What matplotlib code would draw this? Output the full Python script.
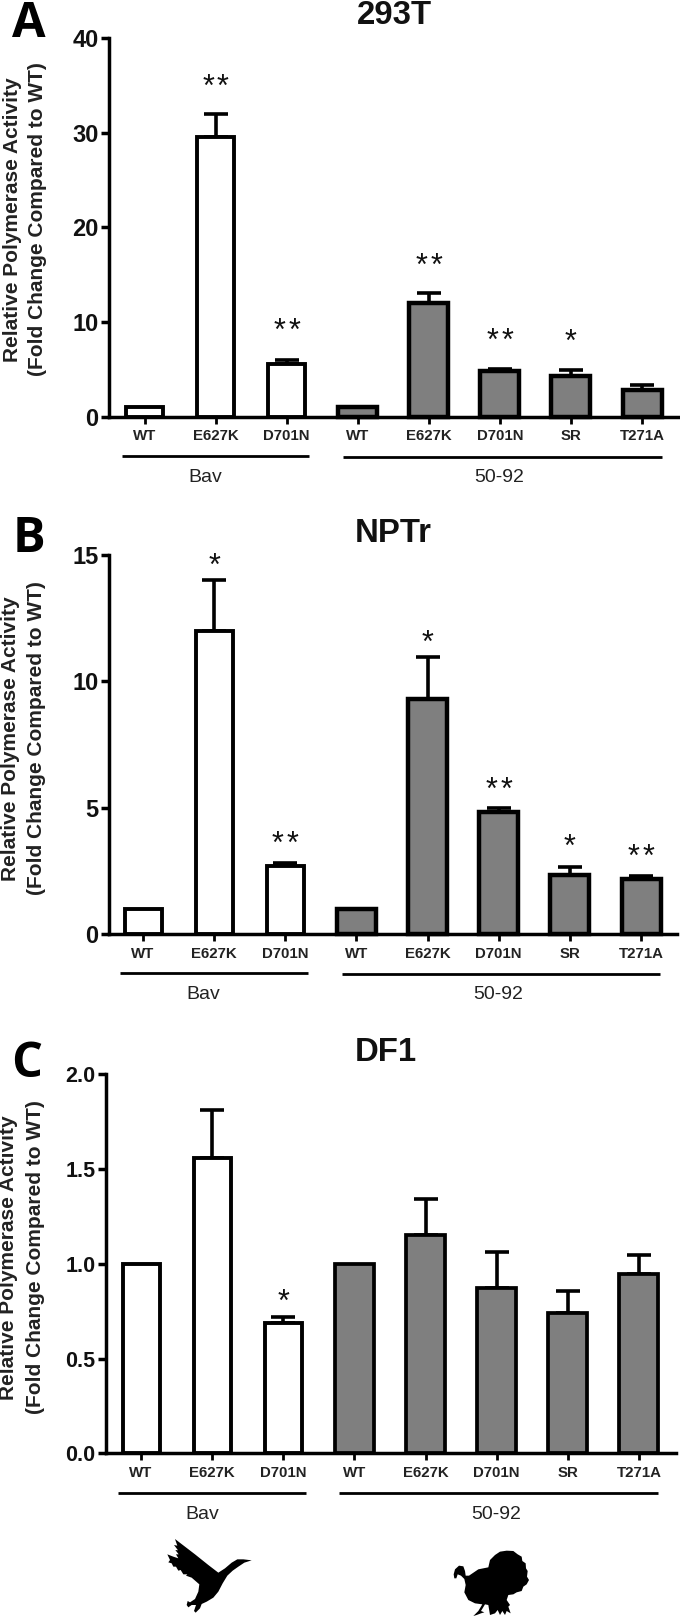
import matplotlib
matplotlib.use("Agg")
import matplotlib.pyplot as plt
from matplotlib.patches import Polygon

plt.rcParams['font.family'] = ['Liberation Sans', 'DejaVu Sans']

# Datos
categorias = ["WT", "E627K", "D701N", "WT", "E627K", "D701N", "SR", "T271A"]

medias_293t = [1.0, 29.5, 5.6, 1.0, 12.0, 4.8, 4.25, 2.85]
error_293t = [0, 2.5, 0.4, 0, 1.0, 0.25, 0.65, 0.5]
estrellas_293t = [0, 2, 2, 0, 2, 2, 1, 0]
altura_estrellas_293t = [0, 35.7, 9.9, 0, 16.75, 8.9, 8.8, 0]

medias_nptr = [1.0, 12.0, 2.7, 1.0, 9.3, 4.84, 2.33, 2.18]
error_nptr = [0, 2.0, 0.1, 0, 1.65, 0.13, 0.33, 0.12]
estrellas_nptr = [0, 1, 2, 0, 1, 2, 1, 2]
altura_estrellas_nptr = [0, 14.9, 3.88, 0, 11.87, 6.05, 3.76, 3.4]

medias_df1 = [1.0, 1.557, 0.686, 1.0, 1.152, 0.87, 0.739, 0.946]
error_df1 = [0, 0.255, 0.032, 0, 0.19, 0.19, 0.119, 0.10]
estrellas_df1 = [0, 0, 1, 0, 0, 0, 0, 0]
altura_estrellas_df1 = [0, 0, 0.845, 0, 0, 0, 0, 0]

ticks_293t = [0, 10, 20, 30, 40]
ticks_nptr = [0, 5, 10, 15]
ticks_df1 = [0.0, 0.5, 1.0, 1.5, 2.0]

W, H = 680, 1618
GRIS = '#7f7f7f'

fig = plt.figure(figsize=(W/100, H/100), dpi=100, facecolor='white')

# Capa en pixeles para textos sueltos, lineas de grupo y siluetas
capa = fig.add_axes([0, 0, 1, 1])
capa.set_xlim(0, W)
capa.set_ylim(H, 0)
capa.axis('off')


def panel(medias, errores, estrellas, alturas, ticks, etiquetas_y, eje_x, x0, x7, der, y_top, y_cero, lw_gris, fs_y):
    ax = fig.add_axes([eje_x/W, 1 - y_cero/H, (der - eje_x)/W, (y_cero - y_top)/H])
    ax.patch.set_alpha(0)
    paso = (x7 - x0)/7
    ax.set_xlim((eje_x - x0)/paso, (der - x0)/paso)
    ax.set_ylim(ticks[0], ticks[-1])
    pos = list(range(8))
    ancho = 37/paso

    ax.bar(pos[:3], medias[:3], ancho, color='white', edgecolor='black', linewidth=2.8, clip_on=False, zorder=3)
    ax.bar(pos[3:], medias[3:], ancho + 2/paso, color=GRIS, edgecolor='black', linewidth=lw_gris, clip_on=False, zorder=3)

    for i in pos:
        if errores[i] > 0:
            ax.errorbar(i, medias[i], yerr=[[0], [errores[i]]], color='black', elinewidth=2.6,
                        capsize=8.3, capthick=2.6, zorder=2)
        # cada estrella va por separado para respetar la separacion del original
        if estrellas[i] == 1:
            desplazamientos = [0]
        elif estrellas[i] == 2:
            desplazamientos = [-5.3, 5.3]
        else:
            desplazamientos = []
        for d in desplazamientos:
            ax.annotate("*", (i, alturas[i]), xytext=(d, -12.5), textcoords='offset points',
                        ha='center', va='baseline', fontsize=22, color='#111111')

    for lado in ['top', 'right']:
        ax.spines[lado].set_visible(False)
    ax.spines['left'].set_linewidth(2.5)
    ax.spines['bottom'].set_linewidth(2.5)

    ax.set_xticks(pos)
    ax.set_xticklabels(categorias, fontsize=10.8, fontweight='bold', color='#222222')
    ax.tick_params(axis='x', length=5, width=2, pad=4)
    ax.set_yticks(ticks)
    ax.set_yticklabels(etiquetas_y, fontsize=fs_y, fontweight='bold', color='#111111')
    ax.tick_params(axis='y', length=6, width=2.5, pad=1.5)
    return ax


panel(medias_293t, error_293t, estrellas_293t, altura_estrellas_293t, ticks_293t,
      ["0", "10", "20", "30", "40"], 109, 144.5, 642, 680, 38, 416.5, 3.2, 17)
panel(medias_nptr, error_nptr, estrellas_nptr, altura_estrellas_nptr, ticks_nptr,
      ["0", "5", "10", "15"], 109, 143, 641, 677, 555, 934, 3.2, 17)
panel(medias_df1, error_df1, estrellas_df1, altura_estrellas_df1, ticks_df1,
      ["0.0", "0.5", "1.0", "1.5", "2.0"], 105.7, 141, 639, 676, 1074.3, 1453.3, 2.7, 15.5)

# Titulos y letras
for txt, x, y in [("293T", 394, 24), ("NPTr", 393, 542), ("DF1", 386, 1061)]:
    capa.text(x, y, txt, ha='center', va='baseline', fontsize=23.7, fontweight='bold', color='#111111')
for txt, x, y in [("A", 29, 37), ("B", 29, 552), ("C", 27, 1077)]:
    capa.text(x, y, txt, ha='center', va='baseline', fontsize=35, fontweight='bold',
              family=['Open Sans', 'DejaVu Sans'], color='black')

# Etiqueta del eje y, dos lineas
for x1, x2, yc in [(13, 38, 219.5), (11, 37, 738.5), (9, 36, 1257.5)]:
    capa.text(x1, yc, "Relative Polymerase Activity", rotation=90, ha='center', va='center',
              fontsize=15, fontweight='bold', color='#222222')
    capa.text(x2, yc, "(Fold Change Compared to WT)", rotation=90, ha='center', va='center',
              fontsize=15, fontweight='bold', color='#222222')

# Lineas de grupo
grupos = [(122, 309, 456, 205, 343, 662, 457, 499, 482),
          (120, 308, 973, 203, 342, 660, 974, 498, 999),
          (118, 306, 1493, 202, 339, 658, 1493, 496, 1519)]
for a1, a2, ya, ta, b1, b2, yb, tb, yt in grupos:
    capa.plot([a1, a2], [ya, ya], color='black', lw=2.0, solid_capstyle='butt')
    capa.plot([b1, b2], [yb, yb], color='black', lw=2.0, solid_capstyle='butt')
    capa.text(ta, yt, "Bav", ha='center', va='baseline', fontsize=14, color='#222222')
    capa.text(tb, yt, "50-92", ha='center', va='baseline', fontsize=14, color='#222222')

# Siluetas (ganso y pavo), contorno aproximado sobre el recorte ampliado
ganso = [(75, 42), (135, 88), (175, 120), (205, 143), (225, 130), (245, 113), (262, 103), (280, 103), (305, 106),
         (283, 113), (265, 125), (248, 137), (232, 152), (218, 175), (205, 200), (190, 218), (170, 230), (155, 237),
         (150, 250), (137, 263), (132, 258), (138, 240), (125, 240), (115, 247), (110, 240), (113, 228), (120, 232),
         (135, 222), (145, 200), (148, 178), (125, 158), (108, 152), (112, 148), (100, 148), (92, 135), (85, 137),
         (78, 125), (70, 125), (65, 115), (55, 112), (60, 105), (52, 88), (70, 95), (85, 100), (78, 88), (86, 88),
         (76, 75), (84, 76), (72, 60), (82, 62), (77, 48)]
pavo = [(130, 97), (135, 75), (150, 60), (165, 50), (185, 47), (205, 48), (218, 58), (230, 65), (232, 78), (242, 85),
        (243, 100), (248, 108), (246, 125), (252, 135), (245, 148), (235, 155), (230, 168), (215, 172), (205, 178),
        (190, 180), (185, 195), (195, 210), (190, 215), (197, 235), (185, 228), (180, 240), (172, 228), (165, 240),
        (158, 225), (150, 235), (135, 240), (130, 210), (120, 208), (108, 228), (118, 232), (108, 235), (95, 240),
        (85, 243), (100, 228), (112, 208), (90, 205), (70, 195), (58, 172), (62, 150), (58, 132), (48, 122), (38, 118),
        (34, 130), (28, 130), (26, 118), (30, 103), (42, 92), (55, 94), (60, 108), (62, 122), (72, 122), (100, 103)]
capa.add_patch(Polygon([(150 + x/3, 1525 + y/3) for x, y in ganso], closed=True, color='black', lw=0))
capa.add_patch(Polygon([(445 + x/3, 1535 + y/3) for x, y in pavo], closed=True, color='black', lw=0))

fig.savefig("out.png", dpi=100)
